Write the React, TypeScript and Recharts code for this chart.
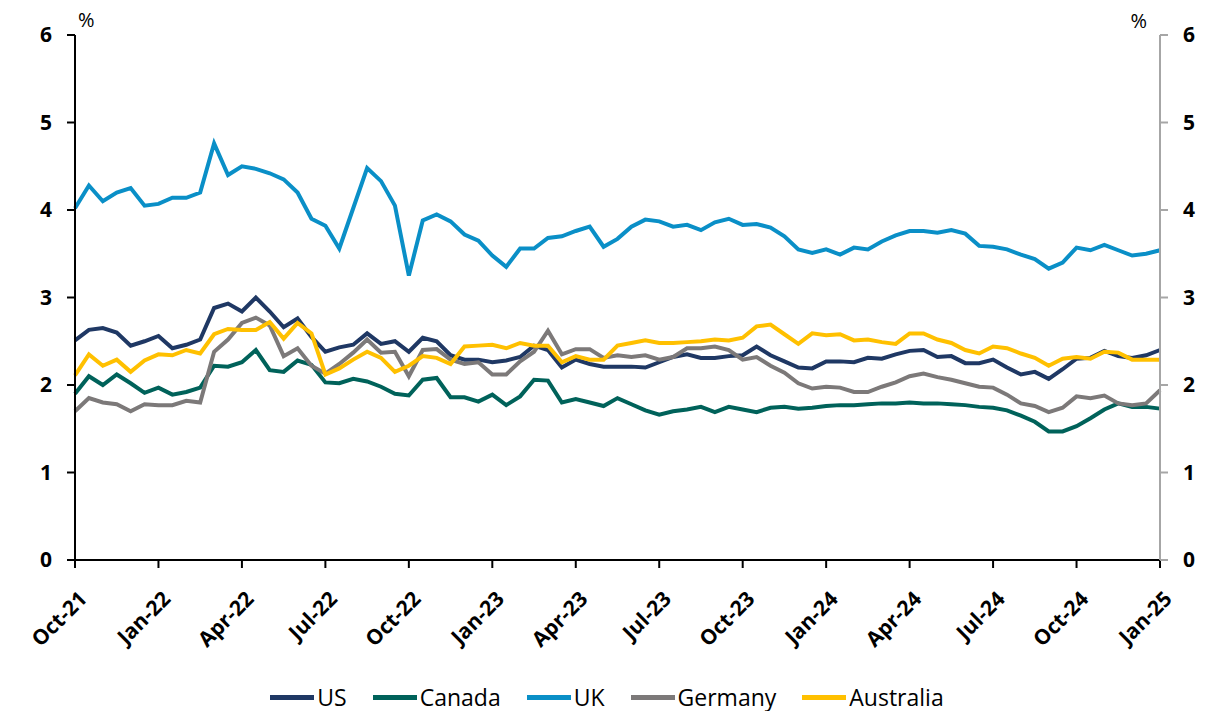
import { LineChart, Line, XAxis, YAxis, Legend } from "recharts"

// months since Oct-21, half-month steps
const months = [
  0, 0.5, 1, 1.5, 2, 2.5, 3, 3.5, 4, 4.5, 5, 5.5, 6, 6.5, 7, 7.5, 8, 8.5, 9, 9.5,
  10, 10.5, 11, 11.5, 12, 12.5, 13, 13.5, 14, 14.5, 15, 15.5, 16, 16.5, 17, 17.5, 18, 18.5, 19, 19.5,
  20, 20.5, 21, 21.5, 22, 22.5, 23, 23.5, 24, 24.5, 25, 25.5, 26, 26.5, 27, 27.5, 28, 28.5, 29, 29.5,
  30, 30.5, 31, 31.5, 32, 32.5, 33, 33.5, 34, 34.5, 35, 35.5, 36, 36.5, 37, 37.5, 38, 38.5, 39,
]

const tickMonths = [0, 3, 6, 9, 12, 15, 18, 21, 24, 27, 30, 33, 36, 39]
const tickLabels = [
  "Oct-21", "Jan-22", "Apr-22", "Jul-22", "Oct-22", "Jan-23", "Apr-23",
  "Jul-23", "Oct-23", "Jan-24", "Apr-24", "Jul-24", "Oct-24", "Jan-25",
]

const us = [
  2.51, 2.63, 2.65, 2.6, 2.45, 2.5, 2.56, 2.42, 2.46, 2.52,
  2.88, 2.93, 2.84, 3.0, 2.84, 2.66, 2.76, 2.55, 2.38, 2.43,
  2.46, 2.59, 2.47, 2.5, 2.38, 2.54, 2.5, 2.34, 2.29, 2.29,
  2.26, 2.28, 2.32, 2.45, 2.4, 2.2, 2.29, 2.24, 2.21, 2.21,
  2.21, 2.2, 2.26, 2.32, 2.35, 2.31, 2.31, 2.33, 2.34, 2.44,
  2.34, 2.27, 2.2, 2.19, 2.27, 2.27, 2.26, 2.31, 2.3, 2.35,
  2.39, 2.4, 2.32, 2.33, 2.25, 2.25, 2.29, 2.2, 2.12, 2.15,
  2.07, 2.18, 2.3, 2.31, 2.39, 2.33, 2.31, 2.34, 2.4,
]

const canada = [
  1.9, 2.1, 2.0, 2.12, 2.02, 1.91, 1.97, 1.89, 1.92, 1.97,
  2.22, 2.21, 2.26, 2.4, 2.17, 2.15, 2.28, 2.23, 2.03, 2.02,
  2.07, 2.04, 1.98, 1.9, 1.88, 2.06, 2.08, 1.86, 1.86, 1.81,
  1.89, 1.77, 1.87, 2.06, 2.05, 1.8, 1.84, 1.8, 1.76, 1.85,
  1.78, 1.71, 1.66, 1.7, 1.72, 1.75, 1.69, 1.75, 1.72, 1.69,
  1.74, 1.75, 1.73, 1.74, 1.76, 1.77, 1.77, 1.78, 1.79, 1.79,
  1.8, 1.79, 1.79, 1.78, 1.77, 1.75, 1.74, 1.71, 1.65, 1.58,
  1.47, 1.47, 1.53, 1.62, 1.72, 1.79, 1.75, 1.75, 1.73,
]

const uk = [
  4.02, 4.28, 4.1, 4.2, 4.25, 4.05, 4.07, 4.14, 4.14, 4.2,
  4.76, 4.4, 4.5, 4.47, 4.42, 4.35, 4.2, 3.9, 3.82, 3.56,
  4.02, 4.48, 4.33, 4.05, 3.25, 3.88, 3.95, 3.87, 3.72, 3.65,
  3.48, 3.35, 3.56, 3.56, 3.68, 3.7, 3.76, 3.81, 3.58, 3.67,
  3.81, 3.89, 3.87, 3.81, 3.83, 3.77, 3.86, 3.9, 3.83, 3.84,
  3.8, 3.7, 3.55, 3.51, 3.55, 3.49, 3.57, 3.55, 3.64, 3.71,
  3.76, 3.76, 3.74, 3.77, 3.73, 3.59, 3.58, 3.55, 3.49, 3.44,
  3.33, 3.4, 3.57, 3.54, 3.6, 3.54, 3.48, 3.5, 3.54,
]

const germany = [
  1.7, 1.85, 1.8, 1.78, 1.7, 1.78, 1.77, 1.77, 1.82, 1.8,
  2.38, 2.52, 2.71, 2.77, 2.68, 2.33, 2.42, 2.22, 2.13, 2.24,
  2.37, 2.52, 2.37, 2.38, 2.1, 2.4, 2.41, 2.29, 2.24, 2.26,
  2.12, 2.12, 2.27, 2.38, 2.62, 2.35, 2.41, 2.41, 2.31, 2.34,
  2.32, 2.34, 2.29, 2.32, 2.42, 2.42, 2.44, 2.4, 2.29, 2.32,
  2.22, 2.14, 2.02, 1.96, 1.98, 1.97, 1.92, 1.92, 1.98, 2.03,
  2.1, 2.13, 2.09, 2.06, 2.02, 1.98, 1.97, 1.89, 1.79, 1.76,
  1.69, 1.74, 1.87, 1.85, 1.88, 1.79, 1.77, 1.79, 1.94,
]

const australia = [
  2.11, 2.35, 2.22, 2.29, 2.15, 2.28, 2.35, 2.34, 2.4, 2.36,
  2.58, 2.64, 2.63, 2.63, 2.72, 2.53, 2.71, 2.59, 2.12, 2.19,
  2.29, 2.38, 2.31, 2.15, 2.22, 2.33, 2.31, 2.24, 2.44, 2.45,
  2.46, 2.42, 2.48, 2.45, 2.45, 2.26, 2.33, 2.29, 2.29, 2.45,
  2.48, 2.51, 2.48, 2.48, 2.49, 2.5, 2.52, 2.51, 2.54, 2.67,
  2.69, 2.58, 2.47, 2.59, 2.57, 2.58, 2.51, 2.52, 2.49, 2.47,
  2.59, 2.59, 2.52, 2.48, 2.4, 2.36, 2.44, 2.42, 2.36, 2.31,
  2.22, 2.3, 2.32, 2.3, 2.38, 2.37, 2.29, 2.29, 2.29,
]

// both axes share the 0-6 scale; the UK line hangs off the right one so it gets drawn
const series = [
  { key: "US", color: "#1f3864", axis: "left" },
  { key: "Canada", color: "#00625a", axis: "left" },
  { key: "UK", color: "#0a8fc7", axis: "right" },
  { key: "Germany", color: "#7c7979", axis: "left" },
  { key: "Australia", color: "#ffc000", axis: "left" },
]

const data = months.map((m, i) => ({
  m,
  US: us[i],
  Canada: canada[i],
  UK: uk[i],
  Germany: germany[i],
  Australia: australia[i],
}))

const font = "'Open Sans', 'Liberation Sans', sans-serif"

function MonthTick({ x, y, payload }: any) {
  const label = tickLabels[tickMonths.indexOf(payload.value)]
  const ax = x + 8
  const ay = y + 27
  return (
    <text
      x={ax}
      y={ay}
      dy="0.35em"
      transform={`rotate(-45 ${ax} ${ay})`}
      textAnchor="end"
      fill="#000"
      fontFamily={font}
      fontWeight={700}
      fontSize={21}
    >
      {label}
    </text>
  )
}

function LegendRow() {
  return (
    <div
      style={{
        display: "flex",
        justifyContent: "center",
        alignItems: "center",
        gap: 26,
        height: 24,
        fontFamily: font,
        fontSize: 23,
        color: "#000",
      }}
    >
      {series.map((s) => (
        <div key={s.key} style={{ display: "flex", alignItems: "center" }}>
          <span style={{ width: 44, height: 5, background: s.color, marginRight: 3 }} />
          <span>{s.key}</span>
        </div>
      ))}
    </div>
  )
}

const pctLeft = ({ viewBox }: any) => (
  <text x={viewBox.x + viewBox.width + 3} y={viewBox.y - 8} fontFamily={font} fontSize={20} fill="#000">
    %
  </text>
)

const pctRight = ({ viewBox }: any) => (
  <text x={viewBox.x - 13} y={viewBox.y - 7} textAnchor="end" fontFamily={font} fontSize={20} fill="#000">
    %
  </text>
)

const tickStyle = { fill: "#000", fontFamily: font, fontWeight: 700, fontSize: 21 }

export default function App() {
  return (
    <div style={{ position: "absolute", left: 0, top: 0, background: "#fff" }}>
      <LineChart width={1214} height={711} data={data} margin={{ top: 35, right: 0, bottom: 2, left: 0 }}>
        <XAxis
          dataKey="m"
          type="number"
          domain={[0, 39]}
          ticks={tickMonths}
          interval={0}
          height={125}
          axisLine={{ stroke: "#000", strokeWidth: 2 }}
          tickLine={{ stroke: "#000", strokeWidth: 2 }}
          tickSize={8}
          tickMargin={0}
          tick={<MonthTick />}
        />
        <YAxis
          yAxisId="left"
          domain={[0, 6]}
          ticks={[0, 1, 2, 3, 4, 5, 6]}
          width={75}
          axisLine={{ stroke: "#000", strokeWidth: 2 }}
          tickLine={{ stroke: "#000", strokeWidth: 2 }}
          tickSize={8}
          tickMargin={15}
          tick={tickStyle}
          label={{ content: pctLeft }}
        />
        <YAxis
          yAxisId="right"
          orientation="right"
          domain={[0, 6]}
          ticks={[0, 1, 2, 3, 4, 5, 6]}
          width={54}
          axisLine={{ stroke: "#a6a6a6", strokeWidth: 2 }}
          tickLine={{ stroke: "#a6a6a6", strokeWidth: 2 }}
          tickSize={8}
          tickMargin={15}
          tick={tickStyle}
          label={{ content: pctRight }}
        />
        <Legend verticalAlign="bottom" content={<LegendRow />} />
        {series.map((s) => (
          <Line
            key={s.key}
            yAxisId={s.axis}
            dataKey={s.key}
            stroke={s.color}
            strokeWidth={4}
            dot={false}
            activeDot={false}
            type="linear"
            isAnimationActive={false}
          />
        ))}
      </LineChart>
    </div>
  )
}
